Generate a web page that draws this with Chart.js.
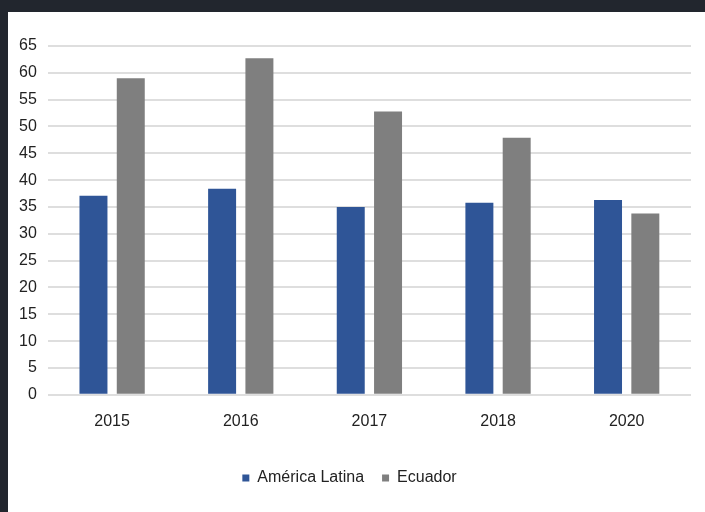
<!DOCTYPE html>
<html lang="es">
<head>
<meta charset="UTF-8" />
<title>América Latina vs Ecuador</title>
<script src="https://cdn.jsdelivr.net/npm/chart.js"></script>
<style>
  html, body { margin: 0; padding: 0; background: #22262e; }
  #wrap { position: absolute; left: 8px; top: 12px; width: 697px; height: 500px; background: #fff; }
</style>
</head>
<body>
<div id="wrap"><canvas id="chart"></canvas></div>
<script>
// data
const years = ['2015', '2016', '2017', '2018', '2020'];
const americaLatina = [37.1, 38.4, 35.0, 35.8, 36.3];
const ecuador = [59.0, 62.7, 52.8, 47.9, 33.8];
const yMax = 65;
const yStep = 5;

const FONT = "'Liberation Sans', Arial, sans-serif";

new Chart(document.getElementById('chart'), {
  type: 'bar',
  data: {
    labels: years,
    datasets: [
      { label: 'América Latina', data: americaLatina, backgroundColor: '#2f5597' },
      { label: 'Ecuador', data: ecuador, backgroundColor: '#7f7f7f' }
    ]
  },
  options: {
    responsive: true,
    maintainAspectRatio: false,
    animation: false,
    categoryPercentage: 0.58,
    barPercentage: 0.75,
    layout: { padding: { left: 0, right: 14, top: 34, bottom: 16 } },
    scales: {
      x: {
        grid: { display: false },
        border: { display: false },
        ticks: { color: '#222', font: { family: FONT, size: 16 }, padding: 9 },
        afterFit: s => { s.height += 12; } // extra room between year labels and legend
      },
      y: {
        min: 0, max: yMax,
        ticks: { stepSize: yStep, color: '#222', font: { family: FONT, size: 16 }, padding: 11 },
        grid: { color: '#dedede', lineWidth: 2, drawTicks: false },
        border: { display: false }
      }
    },
    plugins: {
      legend: {
        position: 'bottom',
        labels: { boxWidth: 7, boxHeight: 7, color: '#222', font: { family: FONT, size: 16 }, padding: 18 }
      },
      tooltip: { enabled: false }
    }
  }
});
</script>
</body>
</html>
